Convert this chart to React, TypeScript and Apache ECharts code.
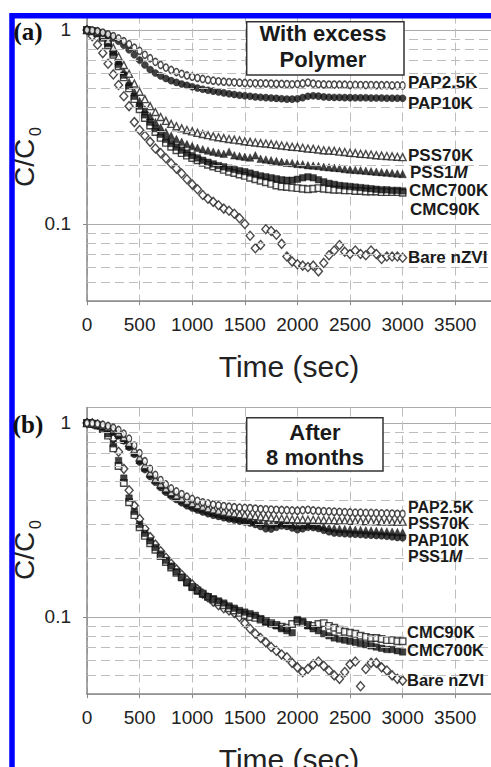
import React, { useEffect, useRef } from "react";
import * as echarts from "echarts";

// Sampling times (sec)
const times = [0,50,100,150,200,250,300,350,400,450,500,550,600,650,700,750,800,850,900,950,1000,1050,1100,1150,1200,1250,1300,1350,1400,1450,1500,1550,1600,1650,1700,1750,1800,1850,1900,1950,2000,2050,2100,2150,2200,2250,2300,2350,2400,2450,2500,2550,2600,2650,2700,2750,2800,2850,2900,2950,3000];

// Panel (a) With excess polymer
const aPAP25K = [1.0,0.995,0.985,0.97,0.95,0.93,0.905,0.875,0.845,0.81,0.78,0.745,0.715,0.685,0.66,0.64,0.622,0.607,0.594,0.583,0.574,0.566,0.559,0.553,0.548,0.544,0.541,0.539,0.537,0.535,0.533,0.532,0.531,0.531,0.53,0.529,0.528,0.527,0.526,0.525,0.526,0.53,0.536,0.529,0.525,0.524,0.523,0.523,0.522,0.522,0.521,0.521,0.52,0.52,0.52,0.519,0.519,0.519,0.518,0.518,0.518];
const aPAP10K = [1.0,0.995,0.985,0.965,0.94,0.91,0.875,0.835,0.79,0.745,0.7,0.66,0.625,0.6,0.58,0.562,0.548,0.537,0.527,0.518,0.51,0.502,0.495,0.489,0.484,0.479,0.474,0.469,0.465,0.461,0.458,0.455,0.452,0.45,0.448,0.446,0.444,0.442,0.44,0.44,0.442,0.448,0.455,0.458,0.456,0.452,0.45,0.449,0.449,0.448,0.448,0.447,0.447,0.447,0.446,0.446,0.446,0.445,0.445,0.445,0.445];
const aPSS70K = [1.0,0.99,0.975,0.94,0.885,0.81,0.73,0.66,0.595,0.53,0.48,0.44,0.405,0.378,0.356,0.34,0.328,0.319,0.311,0.305,0.3,0.295,0.291,0.287,0.283,0.28,0.277,0.274,0.272,0.27,0.267,0.265,0.263,0.261,0.26,0.258,0.256,0.254,0.252,0.25,0.249,0.247,0.245,0.244,0.242,0.24,0.239,0.238,0.236,0.235,0.233,0.232,0.23,0.229,0.228,0.226,0.225,0.224,0.223,0.222,0.221];
const aPSS1M = [1.0,0.99,0.97,0.93,0.865,0.78,0.69,0.61,0.54,0.48,0.43,0.39,0.36,0.335,0.315,0.298,0.285,0.274,0.265,0.258,0.252,0.247,0.243,0.239,0.236,0.233,0.23,0.236,0.226,0.224,0.222,0.22,0.226,0.217,0.215,0.213,0.211,0.209,0.207,0.206,0.204,0.203,0.201,0.2,0.199,0.197,0.196,0.195,0.194,0.192,0.191,0.19,0.189,0.188,0.187,0.186,0.185,0.184,0.183,0.182,0.181];
const aCMC700K = [1.0,0.99,0.965,0.92,0.85,0.76,0.665,0.585,0.515,0.455,0.405,0.365,0.335,0.31,0.29,0.273,0.26,0.249,0.24,0.232,0.225,0.219,0.213,0.208,0.204,0.2,0.197,0.194,0.191,0.188,0.186,0.183,0.18,0.177,0.175,0.173,0.171,0.169,0.168,0.168,0.17,0.173,0.175,0.173,0.169,0.165,0.162,0.16,0.158,0.157,0.156,0.155,0.154,0.153,0.152,0.151,0.15,0.15,0.149,0.149,0.148];
const aCMC90K = [1.0,0.985,0.96,0.91,0.835,0.745,0.65,0.57,0.5,0.44,0.39,0.352,0.322,0.298,0.278,0.262,0.25,0.24,0.232,0.225,0.219,0.213,0.207,0.202,0.198,0.194,0.19,0.186,0.183,0.18,0.177,0.173,0.17,0.167,0.164,0.161,0.158,0.156,0.155,0.154,0.153,0.152,0.151,0.152,0.153,0.152,0.151,0.15,0.15,0.149,0.149,0.148,0.148,0.147,0.147,0.147,0.146,0.146,0.146,0.146,0.145];
const aBare = [1.0,0.93,0.84,0.76,0.67,0.59,0.52,0.455,0.405,0.335,0.305,0.285,0.265,0.245,0.232,0.218,0.205,0.193,0.182,0.17,0.16,0.151,0.141,0.135,0.13,0.125,0.12,0.117,0.113,0.107,0.1,0.087,0.075,0.078,0.094,0.092,0.088,0.079,0.068,0.064,0.062,0.061,0.06,0.061,0.057,0.063,0.069,0.073,0.078,0.072,0.07,0.073,0.07,0.069,0.073,0.07,0.066,0.068,0.068,0.068,0.067];

// Panel (b) After 8 months
const bPAP25K = [1.0,0.998,0.99,0.98,0.965,0.945,0.92,0.88,0.83,0.765,0.7,0.635,0.58,0.54,0.508,0.482,0.46,0.444,0.43,0.417,0.406,0.397,0.39,0.385,0.38,0.376,0.373,0.37,0.368,0.366,0.365,0.364,0.362,0.36,0.359,0.358,0.357,0.356,0.355,0.354,0.353,0.355,0.357,0.354,0.352,0.351,0.35,0.349,0.348,0.347,0.346,0.345,0.345,0.344,0.344,0.343,0.342,0.342,0.341,0.34,0.34];
const bPSS70K = [1.0,0.995,0.985,0.97,0.95,0.925,0.89,0.845,0.79,0.73,0.665,0.605,0.555,0.515,0.485,0.46,0.44,0.423,0.408,0.396,0.386,0.377,0.37,0.363,0.358,0.353,0.349,0.345,0.342,0.339,0.336,0.333,0.331,0.329,0.327,0.325,0.323,0.322,0.32,0.319,0.318,0.318,0.317,0.317,0.316,0.316,0.315,0.315,0.314,0.314,0.313,0.313,0.312,0.312,0.312,0.311,0.311,0.311,0.31,0.31,0.31];
const bPAP10K = [1.0,0.995,0.98,0.96,0.935,0.9,0.86,0.81,0.75,0.69,0.63,0.575,0.53,0.495,0.465,0.44,0.42,0.403,0.388,0.375,0.365,0.356,0.348,0.341,0.335,0.33,0.325,0.32,0.316,0.312,0.309,0.305,0.3,0.293,0.285,0.284,0.29,0.295,0.293,0.288,0.282,0.285,0.29,0.289,0.286,0.28,0.275,0.271,0.27,0.269,0.268,0.267,0.266,0.265,0.264,0.263,0.262,0.261,0.259,0.257,0.256];
const bPSS1M = [1.0,0.995,0.982,0.963,0.94,0.91,0.87,0.82,0.765,0.705,0.645,0.59,0.545,0.508,0.478,0.452,0.432,0.414,0.399,0.386,0.375,0.366,0.358,0.351,0.345,0.339,0.334,0.329,0.325,0.321,0.317,0.314,0.311,0.308,0.305,0.3,0.304,0.306,0.303,0.3,0.297,0.298,0.3,0.298,0.295,0.292,0.289,0.287,0.285,0.284,0.283,0.282,0.281,0.28,0.279,0.278,0.277,0.276,0.275,0.274,0.273];
const bCMC90K = [1.0,0.99,0.97,0.93,0.86,0.74,0.6,0.49,0.39,0.335,0.29,0.262,0.24,0.222,0.206,0.192,0.18,0.169,0.16,0.151,0.143,0.137,0.132,0.127,0.123,0.119,0.115,0.111,0.108,0.105,0.102,0.1,0.099,0.097,0.095,0.093,0.091,0.089,0.088,0.092,0.095,0.093,0.091,0.09,0.092,0.093,0.09,0.088,0.086,0.084,0.083,0.082,0.08,0.079,0.078,0.078,0.077,0.076,0.076,0.075,0.075];
const bCMC700K = [1.0,0.99,0.975,0.94,0.88,0.78,0.64,0.52,0.41,0.35,0.3,0.27,0.247,0.228,0.211,0.196,0.183,0.171,0.16,0.15,0.142,0.136,0.131,0.127,0.124,0.121,0.118,0.114,0.111,0.108,0.106,0.104,0.102,0.098,0.094,0.092,0.09,0.087,0.085,0.083,0.097,0.095,0.09,0.087,0.085,0.082,0.08,0.078,0.077,0.076,0.075,0.074,0.073,0.072,0.071,0.07,0.069,0.068,0.068,0.067,0.066];
const bBare = [1.0,0.995,0.98,0.955,0.91,0.83,0.71,0.58,0.45,0.375,0.32,0.285,0.258,0.236,0.218,0.202,0.188,0.176,0.165,0.155,0.147,0.139,0.132,0.126,0.12,0.115,0.111,0.108,0.105,0.1,0.093,0.087,0.082,0.078,0.074,0.07,0.067,0.064,0.062,0.058,0.055,0.052,0.054,0.057,0.059,0.056,0.053,0.05,0.048,0.052,0.057,0.059,0.044,0.054,0.058,0.058,0.055,0.053,0.05,0.048,0.047];

// Axis ticks
const xTickStep = 500;
const minorGridValues = [0.05, 0.06, 0.07, 0.08, 0.09, 0.2, 0.3, 0.4, 0.5, 0.6, 0.7, 0.8, 0.9];

const SANS = "Liberation Sans, Arial, Helvetica, sans-serif";
const SERIF = "Liberation Serif, Times New Roman, serif";

type Sty = { symbol: string; size: number | number[]; filled: boolean };
const styles: Record<string, Sty> = {
  PAP25K: { symbol: "circle", size: [5, 7], filled: false },
  PAP10K: { symbol: "circle", size: 7, filled: true },
  PSS70K: { symbol: "triangle", size: 7, filled: false },
  PSS1M: { symbol: "triangle", size: 7.5, filled: true },
  CMC700K: { symbol: "rect", size: 6.5, filled: true },
  CMC90K: { symbol: "rect", size: 6.5, filled: false },
  Bare: { symbol: "diamond", size: [8, 9], filled: false },
};

function mkSeries(name: string, key: string, vals: number[], idx: number) {
  const s = styles[key];
  return {
    type: "scatter",
    name,
    xAxisIndex: idx,
    yAxisIndex: idx,
    symbol: s.symbol,
    symbolSize: s.size,
    z: 3,
    silent: true,
    itemStyle: s.filled
      ? { color: "#111", borderColor: "#111", borderWidth: 0.5 }
      : { color: "#fff", borderColor: "#1e1e1e", borderWidth: 1.4 },
    data: times.map((t, i) => [t, vals[i]]),
  };
}

function gridSeries(idx: number) {
  return {
    type: "scatter",
    xAxisIndex: idx,
    yAxisIndex: idx,
    data: [],
    silent: true,
    z: 1,
    markLine: {
      silent: true,
      symbol: ["none", "none"],
      label: { show: false },
      lineStyle: { type: [9, 5], color: "#bdbdbd", width: 1 },
      emphasis: { disabled: true },
      data: minorGridValues.map((v) => ({ yAxis: v })),
    },
  };
}

function xAxis(idx: number) {
  return {
    type: "value",
    gridIndex: idx,
    min: 0,
    max: 3840,
    interval: xTickStep,
    axisLine: { show: true, lineStyle: { color: "#8a8a8a", width: 1.5 } },
    axisTick: { show: true, length: 4, lineStyle: { color: "#8a8a8a" } },
    axisLabel: {
      fontSize: 19,
      color: "#222",
      fontFamily: SANS,
      margin: 14,
      showMaxLabel: false,
      formatter: (v: number) => String(v),
    },
    splitLine: { show: true, lineStyle: { type: [9, 5], color: "#bdbdbd", width: 1 } },
  };
}

function yAxis(idx: number) {
  return {
    type: "log",
    logBase: 10,
    gridIndex: idx,
    min: 0.04,
    max: 1.2,
    axisLine: { show: true, lineStyle: { color: "#8a8a8a", width: 1.5 } },
    axisTick: { show: true, length: 4, lineStyle: { color: "#8a8a8a" } },
    axisLabel: { fontSize: 19, color: "#222", fontFamily: SANS, margin: 16, showMinLabel: false, showMaxLabel: false },
    splitLine: { show: true, lineStyle: { color: "#ababab", width: 1 } },
  };
}

function label(text: string, x: number, y: number, size = 17) {
  return {
    type: "text",
    x,
    y,
    z: 60,
    silent: true,
    style: {
      text,
      fontSize: size,
      fontWeight: "bold",
      fontFamily: SANS,
      fill: "#1a1a1a",
      align: "left",
      verticalAlign: "middle",
    },
  };
}

function pss1mLabel(x: number, y: number, size = 17) {
  return {
    type: "text",
    x,
    y,
    z: 60,
    silent: true,
    style: {
      text: "{n|PSS1}{i|M}",
      align: "left",
      verticalAlign: "middle",
      rich: {
        n: { fontSize: size, fontWeight: "bold", fontFamily: SANS, fill: "#1a1a1a" },
        i: { fontSize: size, fontWeight: "bold", fontStyle: "italic", fontFamily: SANS, fill: "#1a1a1a" },
      },
    },
  };
}

function yName(cx: number, by: number) {
  return {
    type: "group",
    x: cx,
    y: by,
    rotation: Math.PI / 2,
    z: 60,
    silent: true,
    children: [
      { type: "text", x: 0, y: 0, style: { text: "C/C", fontSize: 28, fontFamily: SANS, fill: "#222", align: "left", verticalAlign: "middle" } },
      { type: "text", x: 51, y: 11, style: { text: "0", fontSize: 16, fontFamily: SANS, fill: "#222", align: "left", verticalAlign: "middle" } },
    ],
  };
}

function titleBox(x: number, y: number, w: number, h: number, lines: string[], cx: number, ys: number[]) {
  return [
    { type: "rect", z: 50, silent: true, shape: { x, y, width: w, height: h }, style: { fill: "#fff", stroke: "#333", lineWidth: 1.5 } },
    ...lines.map((t, i) => ({
      type: "text",
      x: cx,
      y: ys[i],
      z: 51,
      silent: true,
      style: { text: t, fontSize: 22, fontWeight: "bold", fontFamily: SANS, fill: "#1a1a1a", align: "center", verticalAlign: "middle" },
    })),
  ];
}

export default function App() {
  const ref = useRef<HTMLDivElement>(null);
  useEffect(() => {
    if (!ref.current) return;
    const chart = echarts.init(ref.current, undefined, { renderer: "svg" });
    const option: any = {
      animation: false,
      backgroundColor: "#fff",
      grid: [
        { left: 87, top: 14.6, width: 404, height: 286.6 },
        { left: 87, top: 407.6, width: 404, height: 286.6 },
      ],
      xAxis: [xAxis(0), xAxis(1)],
      yAxis: [yAxis(0), yAxis(1)],
      series: [
        gridSeries(0),
        gridSeries(1),
        mkSeries("Bare nZVI", "Bare", aBare, 0),
        mkSeries("CMC90K", "CMC90K", aCMC90K, 0),
        mkSeries("CMC700K", "CMC700K", aCMC700K, 0),
        mkSeries("PSS1M", "PSS1M", aPSS1M, 0),
        mkSeries("PSS70K", "PSS70K", aPSS70K, 0),
        mkSeries("PAP10K", "PAP10K", aPAP10K, 0),
        mkSeries("PAP2.5K", "PAP25K", aPAP25K, 0),
        mkSeries("Bare nZVI", "Bare", bBare, 1),
        mkSeries("CMC90K", "CMC90K", bCMC90K, 1),
        mkSeries("CMC700K", "CMC700K", bCMC700K, 1),
        mkSeries("PAP10K", "PAP10K", bPAP10K, 1),
        mkSeries("PSS1M", "PSS1M", bPSS1M, 1),
        mkSeries("PSS70K", "PSS70K", bPSS70K, 1),
        mkSeries("PAP2.5K", "PAP25K", bPAP25K, 1),
      ],
      graphic: [
        // panel (a) annotations
        ...titleBox(246.7, 21.7, 157.3, 53.3, ["With excess", "Polymer"], 323, [33.5, 59]),
        label("PAP2.5K", 408, 82),
        label("PAP10K", 408, 103),
        label("PSS70K", 408, 155),
        pss1mLabel(410, 172.5),
        label("CMC700K", 409, 190.5),
        label("CMC90K", 410, 209),
        label("Bare nZVI", 408, 257),
        yName(24, 187),
        { type: "text", x: 289, y: 366, z: 60, silent: true, style: { text: "Time (sec)", fontSize: 30, fontFamily: SANS, fill: "#222", align: "center", verticalAlign: "middle" } },
        // panel (b) annotations
        ...titleBox(246.7, 417.7, 136.3, 53.3, ["After", "8 months"], 315, [432, 457]),
        label("PAP2.5K", 408, 507, 16),
        label("PSS70K", 408, 523.5, 16),
        label("PAP10K", 408, 540, 16),
        pss1mLabel(408, 556.5, 16),
        label("CMC90K", 407, 632, 16.5),
        label("CMC700K", 407, 650, 16.5),
        label("Bare nZVI", 407, 680, 16.5),
        yName(24, 580),
        { type: "text", x: 289, y: 759, z: 60, silent: true, style: { text: "Time (sec)", fontSize: 30, fontFamily: SANS, fill: "#222", align: "center", verticalAlign: "middle" } },
        // blue frame
        { type: "rect", z: 100, silent: true, shape: { x: 12, y: 15.7, width: 600, height: 900 }, style: { fill: "none", stroke: "#0000ff", lineWidth: 5.5 } },
        { type: "text", x: 28, y: 31, z: 110, silent: true, style: { text: "(a)", fontSize: 25, fontWeight: "bold", fontFamily: SERIF, fill: "#111", align: "center", verticalAlign: "middle" } },
        { type: "text", x: 28, y: 424, z: 110, silent: true, style: { text: "(b)", fontSize: 25, fontWeight: "bold", fontFamily: SERIF, fill: "#111", align: "center", verticalAlign: "middle" } },
      ],
    };
    chart.setOption(option);
    return () => chart.dispose();
  }, []);
  return (
    <div
      ref={ref}
      style={{ position: "absolute", left: 0, top: 0, width: 491, height: 767, background: "#fff" }}
    />
  );
}
